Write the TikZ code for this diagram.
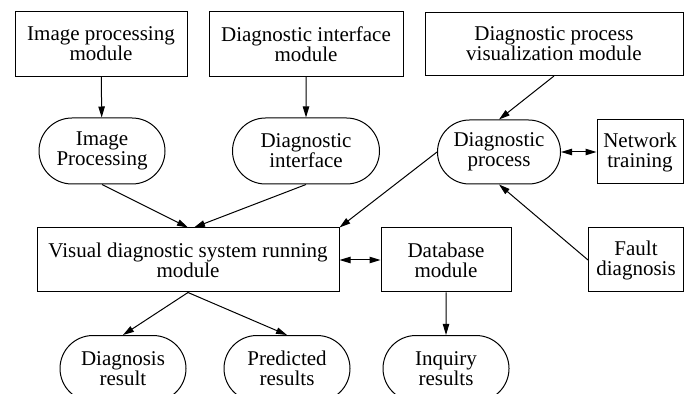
\documentclass[tikz,border=0pt]{standalone}
\usepackage{fontspec}
\setmainfont{Liberation Serif}
\usepackage{tikz}
\usetikzlibrary{shapes.misc,arrows.meta,positioning,calc}
\tikzset{
  box/.style={draw,line width=0.5pt,align=center,font=\fontsize{10.5}{10}\selectfont,minimum height=32pt,inner sep=2pt},
  pill/.style={draw,line width=0.5pt,rounded rectangle,align=center,font=\fontsize{10.5}{10}\selectfont,minimum width=65pt,minimum height=33pt,inner sep=1pt},
  arr/.style={-{Triangle[length=5.5pt,width=3.2pt]},line width=0.5pt},
  darr/.style={{Triangle[length=5.5pt,width=3.2pt]}-{Triangle[length=5.5pt,width=3.2pt]},line width=0.5pt}
}
\begin{document}
\begin{tikzpicture}[x=0.5pt,y=-0.5pt]
\clip (0,0) rectangle (688,394);
\useasboundingbox (0,0) rectangle (688,394);
% top row
\node[box,minimum width=86pt,minimum height=32.5pt] (ipm) at (101,44) {Image processing\\module};
\node[box,minimum width=97pt,minimum height=32.5pt] (dim) at (306,44) {Diagnostic interface\\module};
\node[box,minimum width=129pt,minimum height=31.5pt] (dpvm) at (554,44) {Diagnostic process\\visualization module};
% middle row
\node[pill] (ip) at (102,151) {Image\\Processing};
\node[pill,minimum width=75.5pt] (di) at (306,151) {Diagnostic\\interface};
\node[pill,minimum width=63.5pt,minimum height=32pt] (dp) at (499,152) {Diagnostic\\process};
\node[box,minimum width=43pt] (nt) at (640,152) {Network\\training};
\node[box,minimum width=151pt] (vd) at (188,260) {Visual diagnostic system running\\module};
\node[box,minimum width=65pt] (db) at (446,260) {Database\\module};
\node[box,minimum width=47.5pt] (fd) at (636,260) {Fault\\diagnosis};
% bottom row
\node[pill] (dr) at (123,368.5) {Diagnosis\\result};
\node[pill] (pr) at (287,368.5) {Predicted\\results};
\node[pill] (ir) at (446,368.5) {Inquiry\\results};
% connectors
\draw[arr] (ipm) -- (ip);
\draw[arr] (dim) -- (di);
\draw[arr] (dpvm.south) -- (dp.north);
\draw[arr] (ip.south) -- (vd.north);
\draw[arr] (di.south) -- ([xshift=3pt]vd.north);
\draw[arr] (dp.west) -- (vd.north east);
\draw[darr] (dp.east) -- (nt.west);
\draw[darr] (vd.east) -- (db.west);
\draw[arr] (fd.west) -- (dp.south);
\draw[arr] (vd.south) -- (dr.north);
\draw[arr] (vd.south) -- (pr.north);
\draw[arr] (db) -- (ir);
\end{tikzpicture}
\end{document}
